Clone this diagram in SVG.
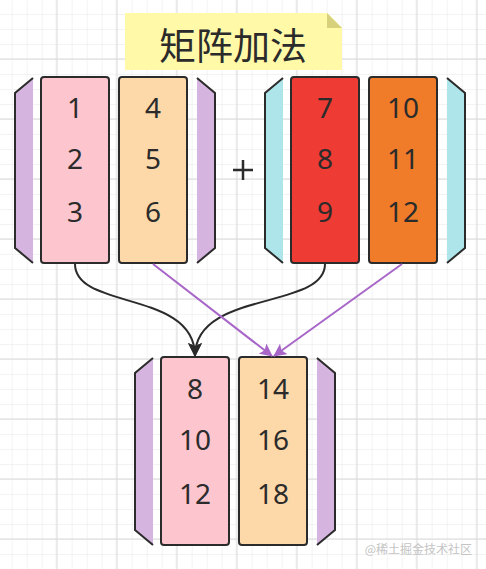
<svg xmlns="http://www.w3.org/2000/svg" width="486" height="569" viewBox="0 0 486 569">
<defs>
<pattern id="minor" x="11.7" y="14" width="15" height="15" patternUnits="userSpaceOnUse">
<path d="M0 0H15M0 0V15" fill="none" stroke="#e8e8e8" stroke-width="1"/>
</pattern>
<pattern id="major" x="11.7" y="14" width="60" height="60" patternUnits="userSpaceOnUse">
<path d="M45 0V60M0 45H60" fill="none" stroke="#d9d9d9" stroke-width="1"/>
</pattern>
<marker id="ab" viewBox="0 0 14 14" refX="13" refY="7" markerWidth="14" markerHeight="14" markerUnits="userSpaceOnUse" orient="auto">
<path d="M0 0L14 7L0 14L3 7Z" fill="#2b2b2b"/>
</marker>
<marker id="ap" viewBox="0 0 14 14" refX="13" refY="7" markerWidth="13" markerHeight="13" markerUnits="userSpaceOnUse" orient="auto">
<path d="M0 0L14 7L0 14L3 7Z" fill="#a866c8"/>
</marker>
</defs>
<style>
.col{stroke:#2b2b2b;stroke-width:2}
.edge{fill:none;stroke:#2b2b2b;stroke-width:2}
.num{font-family:"Noto Sans","Liberation Sans",sans-serif;font-size:28px;fill:#2b2b2b;text-anchor:middle}
.lav{fill:#d6b4e0}
.cyan{fill:#ade5eb}
.pink{fill:#fdc5cd}
.peach{fill:#fdd9aa}
.red{fill:#ee3b34}
.orange{fill:#f07c29}
.conn{fill:none;stroke-width:2}
</style>
<rect width="486" height="569" fill="#ffffff"/>
<rect width="486" height="569" fill="url(#minor)"/>
<rect width="486" height="569" fill="url(#major)"/>

<g id="title">
<path d="M125 13H327L342 28V70H125Z" fill="#fff9a8"/>
<path d="M327 13L342 28H327Z" fill="#d7d17c"/>
<text x="233" y="60" font-family="'Noto Sans CJK SC',sans-serif" font-size="37" fill="#2b2b2b" text-anchor="middle">矩阵加法</text>
</g>

<g id="matrixA">
<path class="lav" d="M33 78L15 93V248L33 263Z"/>
<path class="edge" d="M33 78L15 93V248L33 263"/>
<path class="lav" d="M197 78L215 93V248L197 263Z"/>
<path class="edge" d="M197 78L215 93V248L197 263"/>
<rect class="col pink" x="41" y="77" width="68" height="186" rx="3"/>
<rect class="col peach" x="119" y="77" width="68" height="186" rx="3"/>
<text class="num" x="75" y="118">1</text>
<text class="num" x="75" y="169">2</text>
<text class="num" x="75" y="222">3</text>
<text class="num" x="153" y="118">4</text>
<text class="num" x="153" y="169">5</text>
<text class="num" x="153" y="222">6</text>
</g>

<g id="plus">
<path d="M233 170H253M243 160V180" fill="none" stroke="#2b2b2b" stroke-width="2.5"/>
</g>

<g id="matrixB">
<path class="cyan" d="M283 78L265 93V248L283 263Z"/>
<path class="edge" d="M283 78L265 93V248L283 263"/>
<path class="cyan" d="M447 78L465 93V248L447 263Z"/>
<path class="edge" d="M447 78L465 93V248L447 263"/>
<rect class="col red" x="291" y="77" width="68" height="186" rx="3"/>
<rect class="col orange" x="369" y="77" width="68" height="186" rx="3"/>
<text class="num" x="325" y="118">7</text>
<text class="num" x="325" y="169">8</text>
<text class="num" x="325" y="222">9</text>
<text class="num" x="403" y="118">10</text>
<text class="num" x="403" y="169">11</text>
<text class="num" x="403" y="222">12</text>
</g>

<g id="matrixC">
<path class="lav" d="M153 358L135 373V530L153 545Z"/>
<path class="edge" d="M153 358L135 373V530L153 545"/>
<path class="lav" d="M317 358L335 373V530L317 545Z"/>
<path class="edge" d="M317 358L335 373V530L317 545"/>
<rect class="col pink" x="161" y="357" width="68" height="188" rx="3"/>
<rect class="col peach" x="239" y="357" width="68" height="188" rx="3"/>
<text class="num" x="195" y="399">8</text>
<text class="num" x="195" y="450">10</text>
<text class="num" x="195" y="504">12</text>
<text class="num" x="273" y="399">14</text>
<text class="num" x="273" y="450">16</text>
<text class="num" x="273" y="504">18</text>
</g>

<g id="connectors">
<path class="conn" stroke="#2b2b2b" d="M75 264C75 310 195 290 195 356" marker-end="url(#ab)"/>
<path class="conn" stroke="#2b2b2b" d="M325 264C325 310 195 290 195 356" marker-end="url(#ab)"/>
<path class="conn" stroke="#a866c8" d="M153 264L272 356" marker-end="url(#ap)"/>
<path class="conn" stroke="#a866c8" d="M402 264L274 356" marker-end="url(#ap)"/>
</g>

<text x="472" y="554" font-family="'Noto Sans CJK SC',sans-serif" font-size="12" fill="#c4c4c4" text-anchor="end">@稀土掘金技术社区</text>
</svg>
